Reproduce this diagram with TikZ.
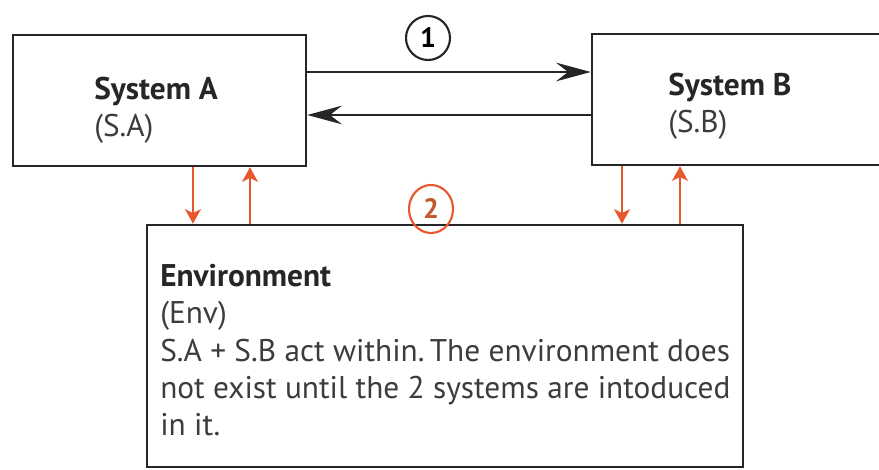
\documentclass[tikz,border=0pt]{standalone}
\usepackage{fontspec}
\setmainfont{PT Sans}
\usepackage{tikz}
\usetikzlibrary{arrows.meta,shapes.geometric}

\definecolor{envorange}{RGB}{232,88,44}
\definecolor{numbrown}{RGB}{196,88,44}
\definecolor{txtgray}{RGB}{60,60,60}

\tikzset{
  sysbox/.style={draw=black!85, line width=1.9pt, inner sep=0pt},
  flow/.style={line width=1.6pt, draw=black!85, -{Stealth[length=26pt,width=14pt,inset=9pt]}},
  envflow/.style={line width=1.4pt, draw=envorange, -{Stealth[length=11pt,width=12pt,inset=3pt]}},
  label/.style={anchor=north west, inner sep=0pt, align=left, text=txtgray,
    font=\fontsize{23.5}{28}\selectfont},
  number/.style={line width=1.6pt, inner sep=0pt, font=\fontsize{21}{21}\selectfont\bfseries}
}

\begin{document}
\begin{tikzpicture}[x=0.75pt,y=0.75pt,yscale=-1,xscale=1]
\useasboundingbox (0,0) rectangle (879,470);
\clip (0,0) rectangle (879,470);

% Boxes
\node[sysbox, minimum width=219.75pt, minimum height=98.25pt] (sysA) at (159.5,100.5) {};
\node[sysbox, minimum width=270pt, minimum height=98.25pt] (sysB) at (772,99.5) {};
\node[sysbox, minimum width=447pt, minimum height=181.5pt] (env) at (445,346) {};

% Texts
\node[label] (sysAtxt) at (94,77) {\textbf{\color{black!85}System A}\\(S.A)};
\node[label] (sysBtxt) at (668,73) {\textbf{\color{black!85}System B}\\(S.B)};
\node[label] (envtxt) at (160,264) {\textbf{\color{black!85}Environment}\\(Env)\\S.A + S.B act within.\,The environment does\\not exist until the 2 systems are intoduced\\in it.};

% Numbers
\node[number, draw=black!85, circle, minimum size=33pt] (one) at (428,38) {1};
\node[number, draw=envorange, ellipse, minimum width=33pt, minimum height=36pt,
  text=numbrown] (two) at (431,209) {2};

% Arrows between systems
\draw[flow] (sysA.east |- 0,72) -- (sysB.west |- 0,72);
\draw[flow] (sysB.west |- 0,115) -- (sysA.east |- 0,115);

% Arrows with the environment
\draw[envflow] (sysA.south -| 193,0) -- (env.north -| 193,0);
\draw[envflow] (env.north -| 250,0) -- (sysA.south -| 250,0);
\draw[envflow] (sysB.south -| 622,0) -- (env.north -| 622,0);
\draw[envflow] (env.north -| 680,0) -- (sysB.south -| 680,0);

\end{tikzpicture}
\end{document}
